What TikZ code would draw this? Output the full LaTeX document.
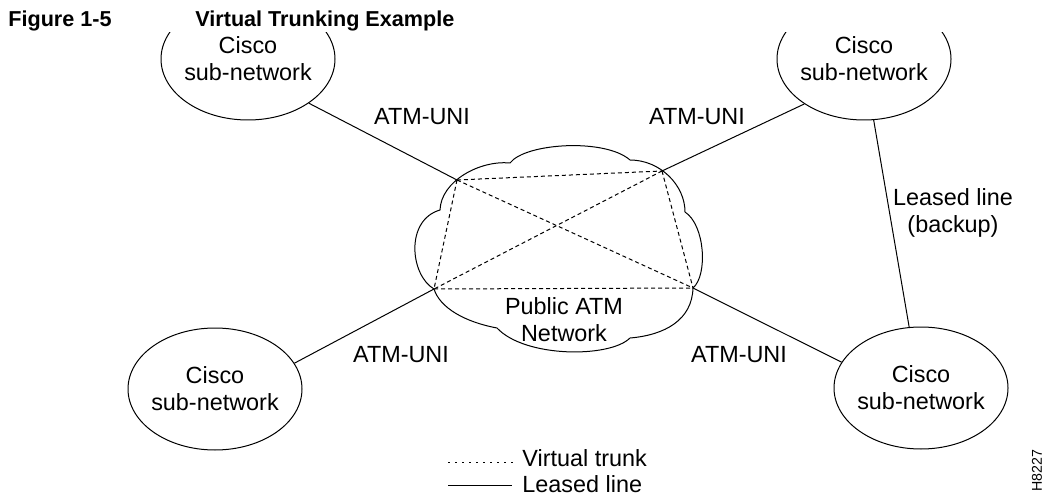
\documentclass[tikz,border=0pt]{standalone}
\usepackage{fontspec}
\setmainfont{Liberation Sans}
\usetikzlibrary{shapes.geometric}
\begin{document}
\begin{tikzpicture}[x=0.5pt,y=-0.5pt,
  lbl/.style={font=\fontsize{11.7}{13.5}\selectfont, align=center, inner sep=0pt},
  titlefont/.style={font=\bfseries\fontsize{10.8}{13}\selectfont, inner sep=0pt, anchor=base west},
  subnet/.style={ellipse, draw, line width=0.5pt, minimum width=87pt, minimum height=61pt, inner sep=0pt},
  link/.style={line width=0.5pt},
  trunk/.style={line width=0.5pt, dash pattern=on 2pt off 1.5pt},
  legtrunk/.style={line width=0.5pt, dash pattern=on 1pt off 2.5pt},
]
\useasboundingbox (0,0) rectangle (1043,497);

% title
\node[titlefont] (fig) at (8,27) {Figure 1-5};
\node[titlefont] (title) at (195,27) {Virtual Trunking Example};

% sub-networks
\begin{scope}
\clip (0,33) rectangle (1043,497);
\node[subnet, label={[lbl]center:Cisco\\sub-network}] (tl) at (248,59) {};
\node[subnet, label={[lbl]center:Cisco\\sub-network}] (tr) at (864,59) {};
\end{scope}
\node[subnet, label={[lbl]center:Cisco\\sub-network}] (bl) at (215,389) {};
\node[subnet, label={[lbl]center:Cisco\\sub-network}] (br) at (921,388) {};

% cloud
\coordinate (P1) at (440,210);
\coordinate (P2) at (510,163);
\coordinate (P3) at (630,160);
\coordinate (P4) at (685,212);
\coordinate (P5) at (693,288);
\coordinate (P6) at (630,338);
\coordinate (P7) at (497,328);
\coordinate (P8) at (434,289);
\draw[link] (P1) .. controls (441,181) and (480,160) .. (P2)
  .. controls (525,143) and (605,138) .. (P3)
  .. controls (660,160) and (685,185) .. (P4)
  .. controls (705,225) and (708,275) .. (P5)
  .. controls (692,320) and (665,335) .. (P6)
  .. controls (610,358) and (525,358) .. (P7)
  .. controls (465,322) and (440,308) .. (P8)
  .. controls (410,275) and (405,220) .. (P1) -- cycle;
\node[lbl] (atm) at (564,320) {Public ATM\\Network};

% trunk points
\coordinate (A) at (457,180);
\coordinate (B) at (662,171);
\coordinate (C) at (P8);
\coordinate (D) at (P5);
\draw[trunk] (A) -- (B);
\draw[trunk] (C) -- (D);
\draw[trunk] (A) -- (C);
\draw[trunk] (B) -- (D);
\draw[trunk] (A) -- (D);
\draw[trunk] (B) -- (C);

% access links
\draw[link] (tl.-36) -- (A);
\draw[link] (tr.-143) -- (B);
\draw[link] (bl.18.6) -- (C);
\draw[link] (br.162.4) -- (D);
\draw[link] (tr.-81.6) -- (br.101);

\node[lbl] (u1) at (422,117) {ATM-UNI};
\node[lbl] (u2) at (697,117) {ATM-UNI};
\node[lbl] (u3) at (401,355) {ATM-UNI};
\node[lbl] (u4) at (739,355) {ATM-UNI};
\node[lbl] (ll) at (953,213) {Leased line\\(backup)};

% legend
\coordinate (la1) at (448,462);
\coordinate (la2) at (513,462);
\coordinate (lb1) at (448,485);
\coordinate (lb2) at (512,485);
\draw[legtrunk] (la1) -- (la2);
\draw[link] (lb1) -- (lb2);
\node[lbl, anchor=base west] (lt1) at (522,466) {Virtual trunk};
\node[lbl, anchor=base west] (lt2) at (522,492) {Leased line};

\node[rotate=90, font=\fontsize{7.1}{8}\selectfont, inner sep=0pt] (id) at (1037,471) {H8227};
\end{tikzpicture}
\end{document}
